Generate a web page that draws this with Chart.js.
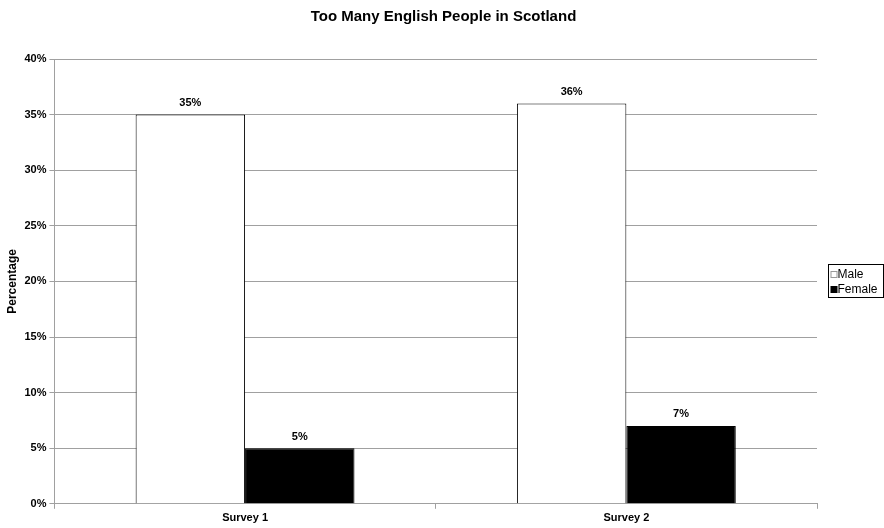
<!DOCTYPE html>
<html>
<head>
<meta charset="utf-8">
<script src="https://cdn.jsdelivr.net/npm/chart.js@4.4.0/dist/chart.umd.min.js"></script>
<style>
  html, body { margin: 0; padding: 0; background: #fff; }
  #wrap { width: 884px; height: 528px; }
</style>
</head>
<body>
<div id="wrap"><canvas id="chart" width="884" height="528"></canvas></div>
<script>
// данные графика
const categories = ["Survey 1", "Survey 2"];
const maleValues = [35, 36];
const femaleValues = [5, 7];
const seriesNames = ["Male", "Female"];

const FONT = "Arial, 'Liberation Sans', sans-serif";

// подписи значений над столбцами
const valueLabels = {
  id: "valueLabels",
  afterDatasetsDraw(chart) {
    const ctx = chart.ctx;
    ctx.save();
    ctx.font = "bold 11px " + FONT;
    ctx.fillStyle = "#000";
    ctx.textAlign = "center";
    ctx.textBaseline = "bottom";
    chart.data.datasets.forEach((ds, i) => {
      chart.getDatasetMeta(i).data.forEach((bar, j) => {
        ctx.fillText(ds.data[j] + "%", bar.x, bar.y - 6);
      });
    });
    ctx.restore();
  },
};

// легенда в рамке справа от области графика
const boxedLegend = {
  id: "boxedLegend",
  afterDraw(chart) {
    const ctx = chart.ctx;
    const area = chart.chartArea;
    const datasets = chart.data.datasets;
    const rowH = 15;
    const boxW = 55;
    const boxH = rowH * datasets.length + 3;
    const left = Math.round(area.right + 11) + 0.5;
    const top = Math.round((area.top + area.bottom) / 2 - boxH / 2) - 0.5;

    ctx.save();
    ctx.strokeStyle = "#000";
    ctx.lineWidth = 1;
    ctx.strokeRect(left, top, boxW, boxH);

    ctx.font = "12px " + FONT;
    ctx.textBaseline = "middle";
    ctx.textAlign = "left";
    datasets.forEach((ds, i) => {
      const cy = top + 2 + rowH * i + rowH / 2;
      const by = Math.round(cy - 3) + 0.5;
      ctx.fillStyle = ds.backgroundColor;
      ctx.fillRect(left + 2.5, by, 6, 6);
      ctx.strokeStyle = i === 0 ? "#999" : "#000";
      ctx.strokeRect(left + 2.5, by, 6, 6);
      ctx.fillStyle = "#000";
      ctx.fillText(ds.label, left + 9, cy + 0.5);
    });
    ctx.restore();
  },
};

new Chart(document.getElementById("chart").getContext("2d"), {
  type: "bar",
  data: {
    labels: categories,
    datasets: [
      {
        label: seriesNames[0],
        data: maleValues,
        backgroundColor: "#ffffff",
        borderColor: "#000000",
        borderWidth: 1,
        barPercentage: 1,
        categoryPercentage: 0.574,
      },
      {
        label: seriesNames[1],
        data: femaleValues,
        backgroundColor: "#000000",
        borderColor: "#000000",
        borderWidth: 1,
        barPercentage: 1,
        categoryPercentage: 0.574,
      },
    ],
  },
  options: {
    responsive: false,
    animation: false,
    layout: { padding: { top: 4, right: 0, bottom: 0, left: 3 } },
    plugins: {
      title: {
        display: true,
        text: "Too Many English People in Scotland",
        color: "#000",
        font: { family: FONT, size: 15, weight: "bold" },
        padding: { top: 4, bottom: 33 },
      },
      legend: { display: false },
      tooltip: { enabled: false },
    },
    scales: {
      x: {
        grid: {
          display: true,
          offset: true,
          drawOnChartArea: false,
          drawTicks: true,
          tickLength: 5,
          color: "#a0a0a0",
        },
        border: { color: "#a0a0a0" },
        ticks: {
          color: "#000",
          font: { family: FONT, size: 11, weight: "bold" },
          padding: 3,
        },
      },
      y: {
        min: 0,
        max: 40,
        ticks: {
          stepSize: 5,
          color: "#000",
          font: { family: FONT, size: 11, weight: "bold" },
          callback: (v) => v + "%",
          padding: 3,
        },
        grid: { color: "#a0a0a0", tickLength: 5 },
        border: { color: "#a0a0a0" },
        title: {
          display: true,
          text: "Percentage",
          color: "#000",
          font: { family: FONT, size: 12, weight: "bold" },
          padding: { top: 2, bottom: 2 },
        },
      },
      // пустая ось справа — место под легенду
      legendSpace: {
        position: "right",
        min: 0,
        max: 40,
        grid: { display: false },
        border: { display: false },
        ticks: { display: false },
        afterFit(scale) {
          scale.width = 67;
        },
      },
    },
  },
  plugins: [valueLabels, boxedLegend],
});
</script>
</body>
</html>
